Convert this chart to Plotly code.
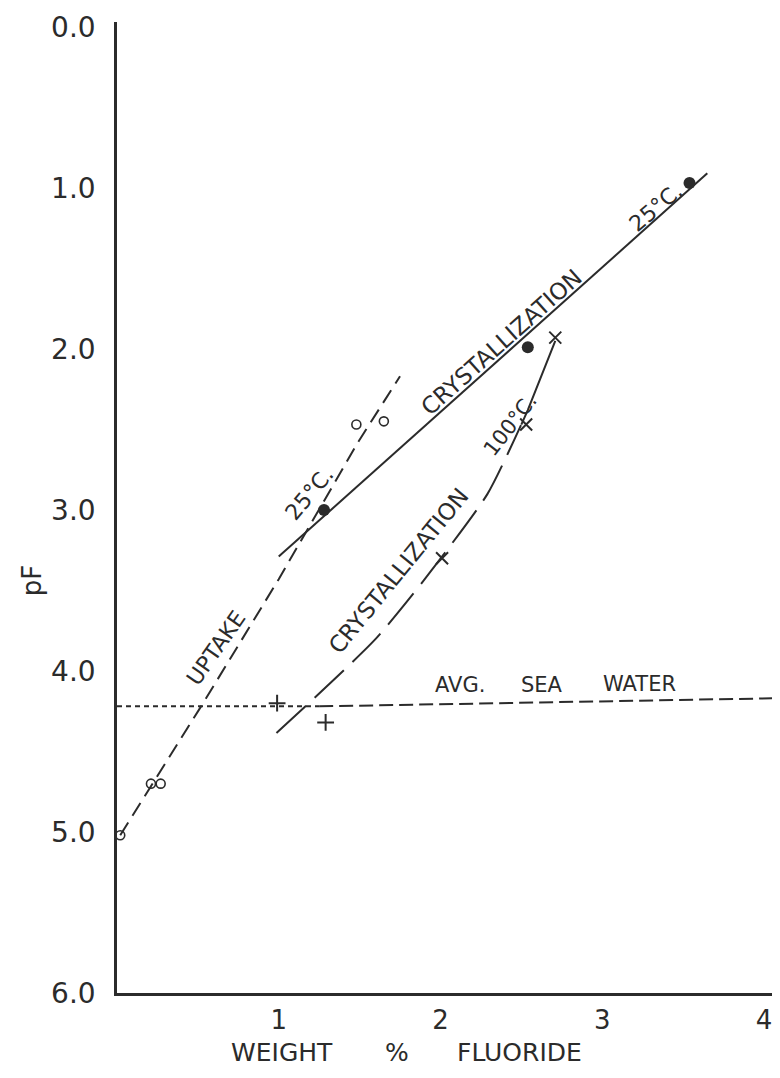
import plotly.graph_objects as go

# ---- data ----
uptake_line_x = [0.02, 0.52, 1.00, 1.49, 1.75]
uptake_line_y = [5.02, 4.22, 3.43, 2.58, 2.17]
uptake_pts_x = [0.02, 0.21, 0.27, 1.48, 1.65]
uptake_pts_y = [5.02, 4.70, 4.70, 2.47, 2.45]

cryst25_line_x = [1.00, 3.65]
cryst25_line_y = [3.29, 0.91]
cryst25_pts_x = [1.28, 2.54, 3.54]
cryst25_pts_y = [3.00, 1.99, 0.97]

cryst100_dash_x = [0.986, 1.592, 1.898, 2.290, 2.498]
cryst100_dash_y = [4.386, 3.809, 3.436, 2.902, 2.473]
cryst100_solid_x = [2.50, 2.54, 2.71]
cryst100_solid_y = [2.47, 2.38, 1.95]
cryst100_pts_x = [0.99, 1.29, 2.01, 2.53, 2.71]
cryst100_pts_y = [4.20, 4.32, 3.30, 2.47, 1.93]
cryst100_symbols = ["cross-thin-open", "cross-thin-open", "x-thin-open", "x-thin-open", "x-thin-open"]

sea_left_x = [0.0, 1.25]
sea_left_y = [4.22, 4.22]
sea_right_x = [1.25, 4.05]
sea_right_y = [4.22, 4.17]

x_tickvals = [1, 2, 3, 4]
x_ticktext = ["1", "2", "3", "4"]
y_tickvals = [0, 1, 2, 3, 4, 5, 6]
y_ticktext = ["0.0", "1.0", "2.0", "3.0", "4.0", "5.0", "6.0"]

INK = "#2b2b2b"
FONT = "DejaVu Sans"

fig = go.Figure()

# uptake (dashed)
fig.add_trace(go.Scatter(x=uptake_line_x, y=uptake_line_y, mode="lines",
                         line=dict(color=INK, width=2, dash="15px,8px"), showlegend=False))
fig.add_trace(go.Scatter(x=uptake_pts_x, y=uptake_pts_y, mode="markers",
                         marker=dict(symbol="circle-open", size=9, color=INK, line=dict(width=1.6)),
                         cliponaxis=False, showlegend=False))

# crystallization 25 C (solid)
fig.add_trace(go.Scatter(x=cryst25_line_x, y=cryst25_line_y, mode="lines",
                         line=dict(color=INK, width=2), showlegend=False))
fig.add_trace(go.Scatter(x=cryst25_pts_x, y=cryst25_pts_y, mode="markers",
                         marker=dict(symbol="circle", size=12, color=INK),
                         cliponaxis=False, showlegend=False))

# crystallization 100 C
fig.add_trace(go.Scatter(x=cryst100_dash_x, y=cryst100_dash_y, mode="lines",
                         line=dict(color=INK, width=2, dash="40px,12px", shape="spline", smoothing=0.6),
                         showlegend=False))
fig.add_trace(go.Scatter(x=cryst100_solid_x, y=cryst100_solid_y, mode="lines",
                         line=dict(color=INK, width=2), showlegend=False))
fig.add_trace(go.Scatter(x=cryst100_pts_x, y=cryst100_pts_y, mode="markers",
                         marker=dict(symbol=cryst100_symbols, size=12, color=INK,
                                     line=dict(width=2, color=INK)),
                         cliponaxis=False, showlegend=False))

# average sea water
fig.add_trace(go.Scatter(x=sea_left_x, y=sea_left_y, mode="lines",
                         line=dict(color=INK, width=2, dash="5px,4px"), showlegend=False))
fig.add_trace(go.Scatter(x=sea_right_x, y=sea_right_y, mode="lines",
                         line=dict(color=INK, width=2, dash="14px,6px"), showlegend=False))

def label(text, x, y, angle, size=22, **kw):
    fig.add_annotation(text=text, x=x, y=y, textangle=angle, showarrow=False,
                       xanchor="center", yanchor="middle",
                       font=dict(family=FONT, size=size, color=INK), **kw)

label("CRYSTALLIZATION", 2.38, 1.96, -41.7, size=23)
label("25°C.", 3.33, 1.12, -40)
label("25°C.", 1.19, 2.90, -50)
label("UPTAKE", 0.61, 3.86, -55)
label("CRYSTALLIZATION", 1.74, 3.38, -50.7, size=23)
label("100°C.", 2.43, 2.47, -52, size=21)
label("AVG.", 2.12, 4.09, 0, size=21)
label("SEA", 2.63, 4.09, 0, size=21)
label("WATER", 3.23, 4.08, 0, size=21)

# axis titles
for txt, xv in [("WEIGHT", 1.02), ("%", 1.73), ("FLUORIDE", 2.49)]:
    fig.add_annotation(text=txt, x=xv, xref="x", y=-0.061, yref="paper", showarrow=False,
                       xanchor="center", yanchor="middle",
                       font=dict(family=FONT, size=25, color=INK))
fig.add_annotation(text="pF", x=-0.13, xref="paper", y=0.425, yref="paper", showarrow=False,
                   textangle=-90, xanchor="center", yanchor="middle",
                   font=dict(family=FONT, size=26, color=INK))

# the page body has an 8px margin, so the figure is smaller than the window
fig.update_layout(
    width=772, height=1062,
    margin=dict(l=109, r=8, t=14, b=77, autoexpand=False),
    paper_bgcolor="white", plot_bgcolor="white",
    xaxis=dict(range=[0, 4.05], showgrid=False, zeroline=False, showline=True,
               linecolor=INK, linewidth=2.5, tickvals=x_tickvals, ticktext=x_ticktext,
               ticks="", tickfont=dict(family=FONT, size=26, color=INK), ticklabelstandoff=2,
               ticklabeloverflow="allow", automargin=False),
    yaxis=dict(range=[6, -0.03], showgrid=False, zeroline=False, showline=True,
               linecolor=INK, linewidth=2.5, tickvals=y_tickvals, ticktext=y_ticktext,
               ticks="", tickfont=dict(family=FONT, size=28, color=INK), ticklabelstandoff=13,
               automargin=False),
)

fig.write_html("out.html")
